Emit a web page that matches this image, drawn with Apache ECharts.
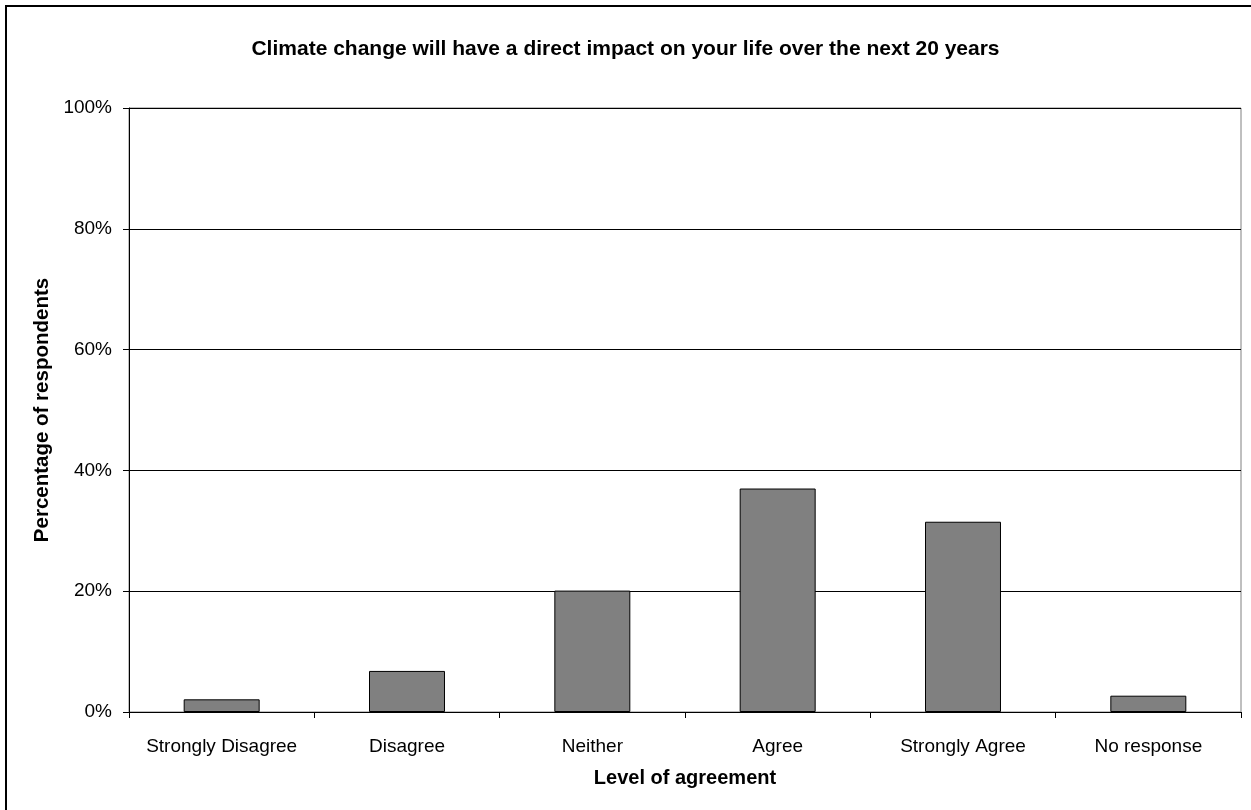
<!DOCTYPE html>
<html>
<head>
<meta charset="utf-8">
<script src="https://cdn.jsdelivr.net/npm/echarts@6/dist/echarts.min.js"></script>
<style>
  html, body { margin: 0; padding: 0; background: #fff; }
  #chart { width: 1251px; height: 810px; }
</style>
</head>
<body>
<div id="chart"></div>
<script>
var categories = ['Strongly Disagree', 'Disagree', 'Neither', 'Agree', 'Strongly Agree', 'No response'];
var percentValues = [2.1, 6.8, 20.1, 37.0, 31.5, 2.7];
var yTicks = [0, 20, 40, 60, 80, 100];

var myChart = echarts.init(document.getElementById('chart'));
var font = 'Liberation Sans, Arial, sans-serif';

myChart.setOption({
    animation: false,
    backgroundColor: '#fff',
    textStyle: { fontFamily: font },
    // frame around the whole chart
    graphic: [{
        type: 'rect',
        shape: { x: 6, y: 6, width: 1270, height: 830 },
        style: { fill: 'none', stroke: '#000', lineWidth: 2 },
        silent: true
    }],
    title: {
        text: 'Climate change will have a direct impact on your life over the next 20 years',
        left: 'center',
        top: 34,
        textStyle: { fontFamily: font, fontSize: 21, fontWeight: 'bold', color: '#000' }
    },
    grid: {
        left: 129,
        right: 10,
        top: 108,
        bottom: 98,
        show: true,
        borderColor: '#808080',
        borderWidth: 1,
        backgroundColor: '#fff'
    },
    xAxis: {
        type: 'category',
        data: categories,
        name: 'Level of agreement',
        nameLocation: 'middle',
        nameGap: 56,
        nameTextStyle: { fontFamily: font, fontSize: 20, fontWeight: 'bold', color: '#000' },
        axisLine: { lineStyle: { color: '#000', width: 1 } },
        axisTick: { show: true, length: 6, lineStyle: { color: '#000' } },
        axisLabel: { fontFamily: font, fontSize: 19, color: '#000', margin: 25, interval: 0 }
    },
    yAxis: {
        type: 'value',
        min: 0,
        max: 100,
        interval: 20,
        name: 'Percentage of respondents',
        nameLocation: 'middle',
        nameGap: 72,
        nameTextStyle: { fontFamily: font, fontSize: 20.5, fontWeight: 'bold', color: '#000' },
        axisLine: { show: true, lineStyle: { color: '#000', width: 1 } },
        axisTick: { show: true, length: 6, lineStyle: { color: '#000' } },
        axisLabel: {
            fontFamily: font, fontSize: 19, color: '#000', margin: 17,
            formatter: function (v) { return yTicks.indexOf(v) >= 0 ? v + '%' : ''; }
        },
        splitLine: { show: true, lineStyle: { color: '#000', width: 1 } }
    },
    series: [{
        type: 'bar',
        data: percentValues,
        barWidth: '41%',
        itemStyle: { color: '#808080', borderColor: '#000', borderWidth: 1 }
    }]
});
</script>
</body>
</html>
